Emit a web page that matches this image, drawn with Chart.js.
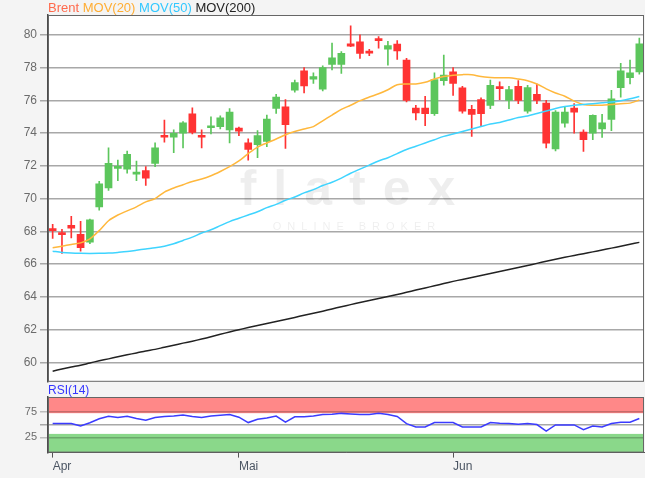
<!DOCTYPE html>
<html>
<head>
<meta charset="utf-8">
<script src="https://cdn.jsdelivr.net/npm/chart.js@4.4.1/dist/chart.umd.min.js"></script>
<style>
  html, body { margin: 0; padding: 0; background: #f4f4f4; }
  #wrap { position: relative; width: 645px; height: 478px; overflow: hidden; font-family: "Liberation Sans", Arial, sans-serif; }
  #legend { position: absolute; left: 48px; top: 0; font-size: 13px; line-height: 15px; white-space: nowrap; z-index: 2; }
  #rsiLabel { position: absolute; left: 48px; top: 383px; font-size: 12px; line-height: 14px; color: #3535ff; z-index: 2; }
  #mainChart { position: absolute; left: 0; top: 0; }
  #rsiChart { position: absolute; left: 0; top: 385px; }
</style>
</head>
<body>
<div id="wrap">
  <div id="legend"><span style="color:#ff6a4d">Brent</span> <span style="color:#ffad33">MOV(20)</span> <span style="color:#33c8ff">MOV(50)</span> <span style="color:#222">MOV(200)</span></div>
  <div id="rsiLabel">RSI(14)</div>
  <canvas id="mainChart" width="645" height="392"></canvas>
  <canvas id="rsiChart" width="645" height="93"></canvas>
</div>
<script>
// trading days, Apr - Jun
const dates = [
  '2018-04-03','2018-04-04','2018-04-05','2018-04-06','2018-04-09','2018-04-10','2018-04-11','2018-04-12','2018-04-13','2018-04-16',
  '2018-04-17','2018-04-18','2018-04-19','2018-04-20','2018-04-23','2018-04-24','2018-04-25','2018-04-26','2018-04-27','2018-04-30',
  '2018-05-01','2018-05-02','2018-05-03','2018-05-04','2018-05-07','2018-05-08','2018-05-09','2018-05-10','2018-05-11','2018-05-14',
  '2018-05-15','2018-05-16','2018-05-17','2018-05-18','2018-05-21','2018-05-22','2018-05-23','2018-05-24','2018-05-25','2018-05-28',
  '2018-05-29','2018-05-30','2018-05-31','2018-06-01','2018-06-04','2018-06-05','2018-06-06','2018-06-07','2018-06-08','2018-06-11',
  '2018-06-12','2018-06-13','2018-06-14','2018-06-15','2018-06-18','2018-06-19','2018-06-20','2018-06-21','2018-06-22','2018-06-25',
  '2018-06-26','2018-06-27','2018-06-28','2018-06-29'
];

const openVals = [
  68.15, 67.93, 68.37, 67.82, 67.35, 69.50, 70.65, 71.85, 71.80, 71.50,
  71.72, 72.15, 73.85, 73.75, 74.00, 75.18, 73.85, 74.33, 74.40, 74.20,
  74.30, 73.40, 73.30, 73.50, 75.50, 75.60, 76.62, 77.80, 77.30, 76.68,
  78.20, 78.20, 79.45, 79.57, 78.97, 79.73, 79.12, 79.43, 78.46, 75.53,
  75.53, 75.18, 77.20, 77.74, 76.76, 75.45, 76.04, 75.69, 76.82, 76.00,
  76.86, 75.34, 76.37, 75.84, 73.03, 74.60, 75.53, 74.06, 73.99, 74.26,
  74.83, 76.78, 77.39, 77.74
];
const highVals = [
  68.43, 68.12, 68.92, 68.62, 68.75, 71.05, 73.10, 72.35, 72.90, 72.30,
  71.95, 73.40, 74.80, 74.20, 74.70, 75.55, 74.20, 75.00, 75.05, 75.50,
  74.37, 73.65, 74.15, 75.10, 76.37, 76.05, 77.23, 78.00, 77.68, 78.10,
  79.50, 78.97, 80.55, 80.00, 79.12, 79.90, 79.60, 79.65, 78.56, 75.70,
  76.25, 77.68, 78.77, 78.00, 76.86, 75.70, 76.16, 77.23, 77.13, 76.86,
  77.20, 76.92, 77.00, 76.00, 75.38, 75.63, 75.80, 74.20, 75.12, 75.14,
  76.61, 78.26, 78.46, 79.80
];
const lowVals = [
  67.57, 66.65, 67.60, 66.80, 67.25, 69.30, 70.50, 71.10, 71.55, 71.10,
  70.80, 71.95, 73.45, 72.80, 73.10, 73.95, 73.10, 73.95, 74.25, 73.40,
  73.85, 72.35, 72.50, 73.17, 75.20, 73.07, 76.50, 76.45, 77.03, 76.57,
  77.85, 77.64, 79.28, 78.56, 78.73, 79.18, 78.15, 78.50, 75.90, 74.80,
  74.46, 75.08, 76.92, 76.30, 75.22, 73.80, 74.46, 75.49, 76.04, 75.49,
  75.80, 75.22, 75.80, 73.09, 72.92, 74.36, 74.00, 72.88, 73.60, 73.74,
  74.15, 76.20, 77.00, 77.60
];
const closeVals = [
  68.05, 67.80, 68.20, 67.00, 68.70, 70.90, 72.15, 71.90, 72.70, 71.60,
  71.25, 73.10, 73.75, 73.98, 74.63, 74.05, 73.75, 74.42, 74.93, 75.28,
  74.12, 73.00, 73.85, 74.85, 76.20, 74.52, 77.09, 76.88, 77.45, 78.00,
  78.60, 78.87, 79.30, 78.87, 78.88, 79.65, 79.34, 79.02, 76.00, 75.24,
  75.18, 77.27, 77.54, 77.03, 75.34, 75.14, 75.18, 76.92, 76.72, 76.66,
  76.00, 76.78, 76.00, 73.38, 75.28, 75.28, 75.28, 73.60, 75.08, 74.63,
  76.10, 77.80, 77.68, 79.45
];

const ma20 = [
  67.00, 67.10, 67.20, 67.30, 67.55, 68.05, 68.65, 69.00, 69.25, 69.50,
  69.80, 70.00, 70.40, 70.65, 70.85, 71.05, 71.20, 71.40, 71.66, 71.95,
  72.30, 72.75, 73.15, 73.40, 73.64, 73.90, 74.10, 74.25, 74.40, 74.75,
  75.10, 75.45, 75.70, 75.98, 76.20, 76.40, 76.65, 76.95, 77.00, 77.00,
  77.10, 77.30, 77.45, 77.53, 77.57, 77.57, 77.45, 77.40, 77.38, 77.38,
  77.30, 77.20, 77.00, 76.70, 76.45, 76.25, 75.95, 75.75, 75.70, 75.70,
  75.75, 75.80, 75.83, 76.02
];
const ma50 = [
  66.79, 66.72, 66.68, 66.66, 66.65, 66.66, 66.68, 66.72, 66.77, 66.85,
  66.93, 67.00, 67.10, 67.25, 67.45, 67.65, 67.90, 68.10, 68.35, 68.60,
  68.80, 69.00, 69.20, 69.45, 69.65, 69.90, 70.10, 70.35, 70.55, 70.80,
  71.00, 71.25, 71.55, 71.80, 72.05, 72.30, 72.50, 72.75, 73.00, 73.20,
  73.40, 73.60, 73.80, 73.95, 74.10, 74.25, 74.40, 74.55, 74.65, 74.80,
  74.95, 75.05, 75.20, 75.35, 75.50, 75.62, 75.70, 75.75, 75.80, 75.85,
  75.90, 75.98, 76.10, 76.24
];
const ma200 = [
  59.47, 59.60, 59.72, 59.83, 59.97, 60.10, 60.22, 60.35, 60.47, 60.58,
  60.70, 60.80, 60.93, 61.05, 61.18, 61.30, 61.43, 61.57, 61.72, 61.86,
  62.00, 62.13, 62.25, 62.38, 62.50, 62.62, 62.75, 62.88, 63.00, 63.13,
  63.27, 63.40, 63.53, 63.66, 63.78, 63.90, 64.03, 64.15, 64.28, 64.42,
  64.55, 64.68, 64.82, 64.95, 65.07, 65.19, 65.31, 65.43, 65.55, 65.67,
  65.80, 65.92, 66.05, 66.18, 66.30, 66.42, 66.53, 66.64, 66.75, 66.87,
  66.98, 67.10, 67.22, 67.33
];
const rsi14 = [
  52.4, 52.4, 52.4, 47.5, 54.0, 62.0, 67.0, 64.5, 67.0, 62.5,
  59.0, 64.5, 66.5, 67.2, 69.5, 66.5, 64.5, 67.5, 69.0, 70.5,
  65.0, 54.4, 61.0, 63.5, 67.2, 55.1, 65.8, 65.8, 67.5, 70.5,
  71.0, 72.6, 71.5, 70.6, 70.6, 72.6, 70.5, 66.5, 52.4, 45.6,
  45.6, 54.4, 54.4, 54.4, 45.6, 45.6, 45.6, 54.4, 53.0, 52.4,
  51.0, 52.4, 50.5, 37.5, 49.7, 49.7, 49.7, 40.5, 47.6, 45.6,
  52.4, 55.0, 55.1, 62.5
];

const priceTicks = [60, 62, 64, 66, 68, 70, 72, 74, 76, 78, 80];
const rsiTicks = [25, 50, 75];
const rsiBands = { overbought: [73, 105], oversold: [-5, 32] };
const monthNames = { '04': 'Apr', '05': 'Mai', '06': 'Jun' };

const upColor = '#5cc65c';
const downColor = '#ff3333';
const candleColors = closeVals.map((c, i) => c >= openVals[i] ? upColor : downColor);

// white plot area + thin frame around it
const plotFrame = {
    id: 'plotFrame',
    beforeDraw(chart) {
        const { ctx, chartArea: a } = chart;
        ctx.save();
        ctx.fillStyle = '#ffffff';
        ctx.fillRect(a.left, a.top, a.right - a.left, a.bottom - a.top);
        ctx.restore();
    },
    afterDraw(chart) {
        const { ctx, chartArea: a } = chart;
        ctx.save();
        ctx.strokeStyle = '#666';
        ctx.lineWidth = 1;
        ctx.strokeRect(a.left + 0.5, a.top + 0.5, a.right - a.left - 1, a.bottom - a.top - 1);
        ctx.restore();
    }
};

// faint broker logo behind the candles
const watermark = {
    id: 'watermark',
    beforeDatasetsDraw(chart) {
        const { ctx } = chart;
        ctx.save();
        ctx.fillStyle = 'rgba(0,0,0,0.065)';
        ctx.textAlign = 'center';
        ctx.font = 'bold 50px "Liberation Sans", Arial, sans-serif';
        ctx.letterSpacing = '17px';
        ctx.fillText('flatex', 356, 205);
        ctx.font = '11px "Liberation Sans", Arial, sans-serif';
        ctx.letterSpacing = '6px';
        ctx.fillText('ONLINE BROKER', 357, 230);
        ctx.restore();
    }
};

// red / green zones of the RSI panel, drawn under the grid
const rsiZones = {
    id: 'rsiZones',
    beforeDraw(chart) {
        const { ctx, chartArea: a } = chart;
        const y = chart.scales.y;
        ctx.save();
        ctx.fillStyle = '#ff8888';
        const r1 = y.getPixelForValue(rsiBands.overbought[1]), r0 = y.getPixelForValue(rsiBands.overbought[0]);
        ctx.fillRect(a.left, r1, a.right - a.left, r0 - r1);
        ctx.fillStyle = '#8ad88a';
        const g1 = y.getPixelForValue(rsiBands.oversold[1]), g0 = y.getPixelForValue(rsiBands.oversold[0]);
        ctx.fillRect(a.left, g1, a.right - a.left, g0 - g1);
        ctx.restore();
    }
};

const tickFont = { family: '"Liberation Sans", Arial, sans-serif', size: 12 };

new Chart(document.getElementById('mainChart'), {
    type: 'bar',
    data: {
        labels: dates,
        datasets: [
            {
                type: 'line', label: 'MOV(200)', data: ma200, borderColor: '#222', borderWidth: 1.5,
                pointRadius: 0, tension: 0.3, order: 0
            },
            {
                type: 'line', label: 'MOV(50)', data: ma50, borderColor: '#3fd4ff', borderWidth: 1.5,
                pointRadius: 0, tension: 0.3, order: 0
            },
            {
                type: 'line', label: 'MOV(20)', data: ma20, borderColor: '#ffb83d', borderWidth: 1.5,
                pointRadius: 0, tension: 0.3, order: 0
            },
            {
                label: 'Brent body', data: openVals.map((o, i) => [o, closeVals[i]]),
                backgroundColor: candleColors, barThickness: 7, minBarLength: 2, grouped: false, order: 1
            },
            {
                label: 'Brent wick', data: lowVals.map((l, i) => [l, highVals[i]]),
                backgroundColor: candleColors, barThickness: 1, grouped: false, order: 2
            }
        ]
    },
    options: {
        responsive: false,
        animation: false,
        layout: { padding: { top: 15, right: 1, bottom: 0, left: 0 } },
        plugins: { legend: { display: false }, tooltip: { enabled: false } },
        scales: {
            x: { type: 'category', offset: true, display: false, grid: { display: false } },
            y: {
                min: 58.82, max: 81.21,
                afterBuildTicks: s => { s.ticks = priceTicks.map(v => ({ value: v })); },
                afterFit: s => { s.width = 48; },
                ticks: { color: '#6b6b6b', font: tickFont, padding: 3 },
                grid: { color: '#a8a8a8', lineWidth: 1.5, tickLength: 8 },
                border: { display: true, color: '#4d4d4d', width: 1.5 }
            }
        }
    },
    plugins: [plotFrame, watermark]
});

new Chart(document.getElementById('rsiChart'), {
    type: 'line',
    data: {
        labels: dates,
        datasets: [{
            label: 'RSI(14)', data: rsi14, borderColor: '#3b3bff', borderWidth: 1.5,
            pointRadius: 0, tension: 0
        }]
    },
    options: {
        responsive: false,
        animation: false,
        layout: { padding: { top: 12, right: 1, bottom: 2, left: 0 } },
        plugins: { legend: { display: false }, tooltip: { enabled: false } },
        scales: {
            x: {
                type: 'category', offset: true,
                grid: { drawOnChartArea: false, drawTicks: true, tickLength: 5, offset: false, color: '#555' },
                border: { display: true, color: '#555' },
                ticks: {
                    autoSkip: false, maxRotation: 0, align: 'start', color: '#4b5563', font: tickFont, padding: 2,
                    callback: function (value, index) {
                        const m = dates[index].slice(5, 7);
                        if (index === 0 || dates[index - 1].slice(5, 7) !== m) return monthNames[m];
                        return null;
                    }
                }
            },
            y: {
                min: -5, max: 105,
                afterBuildTicks: s => { s.ticks = rsiTicks.map(v => ({ value: v })); },
                afterFit: s => { s.width = 48; },
                ticks: {
                    color: '#6b6b6b', font: { family: tickFont.family, size: 11 }, padding: 3,
                    callback: v => v === 50 ? '' : v
                },
                grid: {
                    color: c => c.tick && c.tick.value === 50 ? '#a8a8a8' : 'rgba(0,0,0,0.22)',
                    lineWidth: 1.5, tickLength: 8
                },
                border: { display: true, color: '#4d4d4d', width: 1.5 }
            }
        }
    },
    plugins: [plotFrame, rsiZones]
});
</script>
</body>
</html>
